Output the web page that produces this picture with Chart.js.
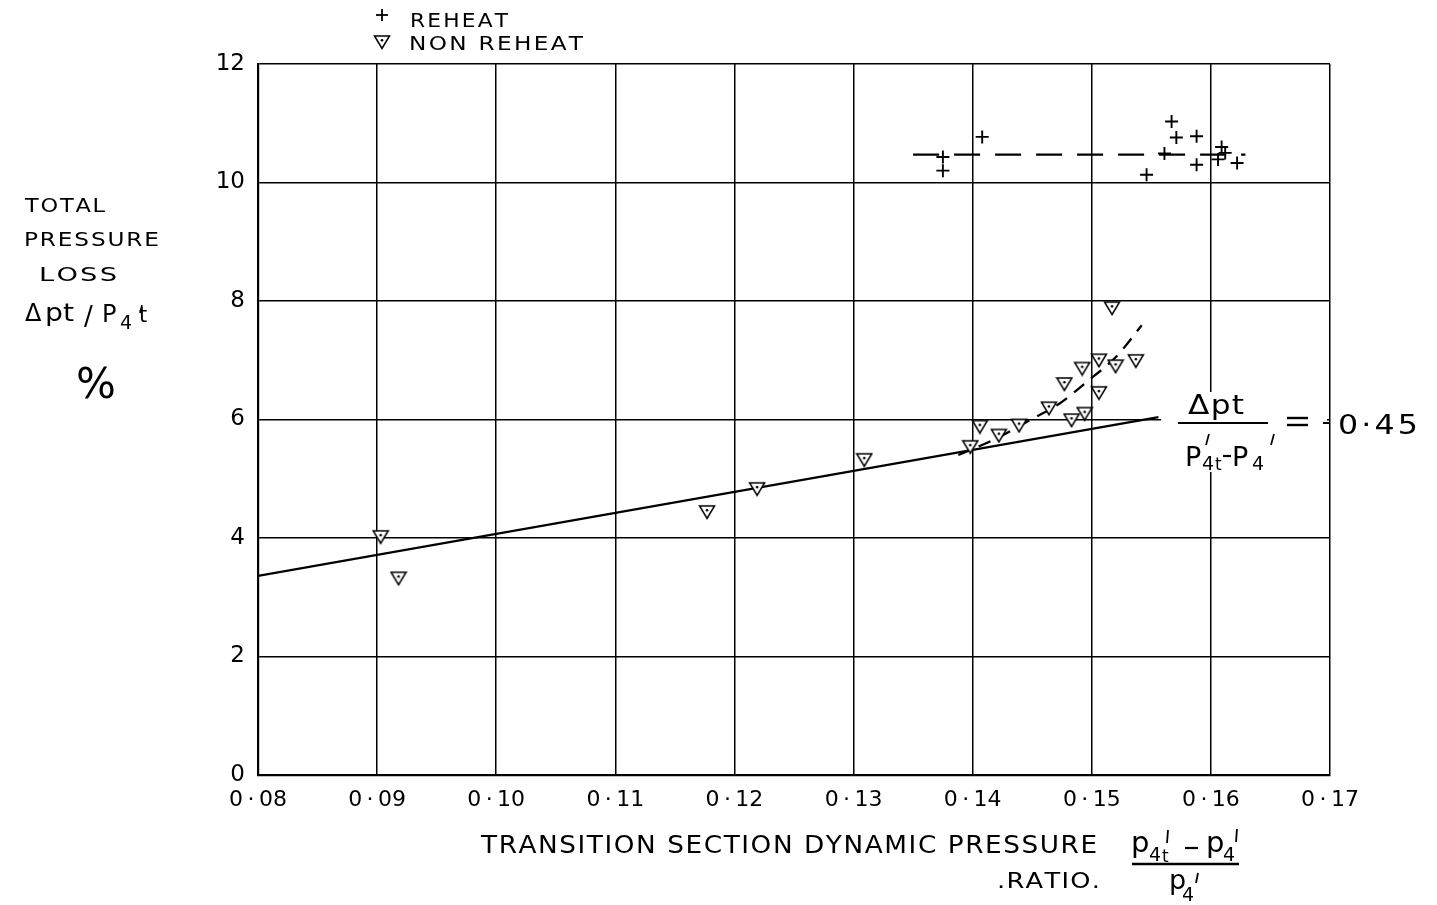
<!DOCTYPE html>
<html><head><meta charset="utf-8">
<script src="https://cdn.jsdelivr.net/npm/chart.js@4/dist/chart.umd.min.js"></script>
<style>html,body{margin:0;padding:0;background:#fff;overflow:hidden}#wrap{width:1437px;height:905px;position:relative}</style>
</head><body><div id="wrap"><canvas id="c" width="1437" height="905"></canvas></div>
<script>
// ---- data ----
const xTicks = [0.08,0.09,0.10,0.11,0.12,0.13,0.14,0.15,0.16,0.17];
const yTicks = [0,2,4,6,8,10,12];
const xLabels = ['0\u2009·\u200908','0\u2009·\u200909','0\u2009·\u200910','0\u2009·\u200911','0\u2009·\u200912','0\u2009·\u200913','0\u2009·\u200914','0\u2009·\u200915','0\u2009·\u200916','0\u2009·\u200917'];
const yLabels = ['0','2','4','6','8','10','12'];

const reheatX = [0.1375,0.1375,0.1408,0.1546,0.1561,0.1567,0.1571,0.1588,0.1588,0.1606,0.1609,0.1612,0.1622];
const reheatY = [10.43,10.20,10.77,10.13,10.49,11.03,10.76,10.78,10.30,10.39,10.60,10.50,10.33];

const nonReheatX = [0.0903,0.0918,0.1177,0.1219,0.1309,0.1398,0.1406,0.1422,0.1439,0.1464,0.1477,0.1483,0.1492,0.1494,0.1506,0.1506,0.1517,0.1520,0.1537];
const nonReheatY = [4.02,3.32,4.44,4.83,5.32,5.54,5.88,5.73,5.90,6.19,6.60,5.99,6.86,6.10,7.00,6.45,7.88,6.90,6.99];

const fitX = [0.08,0.1556];
const fitY = [3.36,6.04];

const reheatMeanX = [0.1350,0.1629];
const reheatMeanY = [10.47,10.47];

const curveX = [0.1388,0.1420,0.1448,0.1473,0.1496,0.1520,0.1542];
const curveY = [5.40,5.68,5.99,6.27,6.64,7.05,7.59];

// ---- helpers ----
const pts = (xs,ys)=>xs.map((x,i)=>({x:x,y:ys[i]}));
function triCanvas(){
  const c=document.createElement('canvas');c.width=18;c.height=16;
  const g=c.getContext('2d');
  g.lineWidth=1.5;g.strokeStyle='#000';g.fillStyle='#fff';
  g.beginPath();g.moveTo(1.5,2);g.lineTo(16.5,2);g.lineTo(9,14.5);g.closePath();g.fill();g.stroke();
  g.fillStyle='#000';g.beginPath();g.arc(9,6.2,1.3,0,Math.PI*2);g.fill();
  return c;
}
const TRI = triCanvas();
const FONT = '"DejaVu Sans", "Liberation Sans", sans-serif';

function fitText(ctx,text,x,y,w,gapEm){
  const size=parseFloat(ctx.font);
  const ch=[...text];const ws=ch.map(c=>ctx.measureText(c).width);
  const gap=(gapEm||0)*size;
  const tot=ws.reduce((a,b)=>a+b,0)+gap*(ch.length-1);
  const sx=w/tot;
  ctx.save();ctx.translate(x,y);ctx.scale(sx,1);
  let cx=0;ch.forEach((c,i)=>{ctx.fillText(c,cx,0);cx+=ws[i]+gap;});
  ctx.restore();
}
function seg(ctx,x1,y1,x2,y2,w){ctx.lineWidth=w||1.8;ctx.beginPath();ctx.moveTo(x1,y1);ctx.lineTo(x2,y2);ctx.stroke();}
function txt(ctx,s,size,x,y){ctx.font=size+'px '+FONT;ctx.fillText(s,x,y);}

const deco = {
  id:'deco',
  afterDraw(chart){
    const ctx=chart.ctx;ctx.save();
    ctx.fillStyle='#000';ctx.strokeStyle='#000';ctx.textBaseline='alphabetic';ctx.textAlign='left';
    // legend
    seg(ctx,376,15,388,15,1.8);seg(ctx,382,9,382,21,1.8);
    ctx.drawImage(TRI,382-9,42-8);
    ctx.font='20px '+FONT;
    fitText(ctx,'REHEAT',410,27,98,0.1);
    fitText(ctx,'NON REHEAT',409,50,174,0.1);
    // y title
    ctx.font='19px '+FONT;
    fitText(ctx,'TOTAL',25,212,80,0.08);
    fitText(ctx,'PRESSURE',24,246,135,0.08);
    fitText(ctx,'LOSS',39,281,78,0.08);
    txt(ctx,'Δ',24,25,321);
    ctx.font='24px '+FONT;fitText(ctx,'pt',45,321,29,0);
    txt(ctx,'/',26,84,325);
    txt(ctx,'P',24,102,322);
    txt(ctx,'4',19,120,329);
    txt(ctx,'t',21,139,322);
    seg(ctx,142,305,140,313,1.7);
    txt(ctx,'%',42,76,398);
    // x title
    ctx.font='24px '+FONT;
    fitText(ctx,'TRANSITION SECTION DYNAMIC PRESSURE',481,853,616,0.06);
    ctx.font='21px '+FONT;
    fitText(ctx,'.RATIO.',997,888,103,0.05);
    txt(ctx,'p',29,1131,852);
    txt(ctx,'4',19,1149,861);
    txt(ctx,'t',17,1162,862);
    seg(ctx,1168,830,1167,843,1.8);
    seg(ctx,1185,848,1198,848,2.2);
    txt(ctx,'p',29,1206,852);
    txt(ctx,'4',19,1223,861);
    seg(ctx,1237,829,1236,842,1.8);
    seg(ctx,1132,864,1239,864,2.4);
    txt(ctx,'p',27,1169,889);
    txt(ctx,'4',19,1182,901);
    seg(ctx,1198,873,1196,883,1.8);
    // right annotation
    ctx.fillStyle='#fff';ctx.fillRect(1161,392,166,80);
    ctx.fillStyle='#000';
    ctx.font='26px '+FONT;fitText(ctx,'Δpt',1188,414,56,0.04);
    seg(ctx,1178,423,1268,423,2.2);
    txt(ctx,'P',27,1185,466);
    txt(ctx,'4',19,1202,470);
    txt(ctx,'t',17,1215,470);
    seg(ctx,1223,456,1231,456,2.2);
    txt(ctx,'P',27,1232,466);
    txt(ctx,'4',19,1252,470);
    seg(ctx,1209,434,1206,445,1.7);
    seg(ctx,1274,434,1271,445,1.7);
    seg(ctx,1287,418,1308,418,2.4);seg(ctx,1287,425,1308,425,2.4);seg(ctx,1323,423,1330,423,2);
    ctx.font='27px '+FONT;fitText(ctx,'0·45',1338,434,80,0.1);
    ctx.restore();
  }
};

new Chart(document.getElementById('c'),{
  data:{datasets:[
    {type:'scatter',label:'REHEAT',data:pts(reheatX,reheatY),pointStyle:'cross',pointRadius:6.5,pointBorderWidth:1.9,borderColor:'#000',backgroundColor:'#000',order:0},
    {type:'scatter',label:'NON REHEAT',data:pts(nonReheatX,nonReheatY),pointStyle:TRI,pointRadius:8,order:0},
    {type:'line',label:'fit',data:pts(fitX,fitY),borderColor:'#000',borderWidth:2.3,pointRadius:0,fill:false,order:1},
    {type:'line',label:'reheat mean',data:pts(reheatMeanX,reheatMeanY),borderColor:'#000',borderWidth:2.3,borderDash:[26,15],pointRadius:0,fill:false,order:1},
    {type:'line',label:'non reheat trend',data:pts(curveX,curveY),borderColor:'#000',borderWidth:2.3,borderDash:[13,9],pointRadius:0,fill:false,cubicInterpolationMode:'monotone',order:1}
  ]},
  options:{
    responsive:false,animation:false,devicePixelRatio:1,
    layout:{padding:{left:0,top:64,right:107,bottom:0}},
    plugins:{legend:{display:false},tooltip:{enabled:false}},
    scales:{
      x:{type:'linear',min:0.08,max:0.17,
        afterBuildTicks:s=>{s.ticks=xTicks.map(v=>({value:v}));},
        afterFit:s=>{s.height=130;},
        ticks:{callback:(v,i)=>xLabels[i],color:'#000',font:{family:'"DejaVu Sans"',size:22},padding:12,maxRotation:0,autoSkip:false},
        grid:{color:'#000',lineWidth:1.5,drawTicks:false},
        border:{color:'#000',width:2.2}},
      y:{type:'linear',min:0,max:12,
        afterBuildTicks:s=>{s.ticks=yTicks.map(v=>({value:v}));},
        afterFit:s=>{s.width=258;},
        ticks:{callback:(v,i)=>yLabels[i],color:'#000',font:{family:'"DejaVu Sans"',size:23},padding:13,autoSkip:false},
        grid:{color:'#000',lineWidth:1.5,drawTicks:false},
        border:{color:'#000',width:2.2}}
    }
  },
  plugins:[deco]
});
</script></body></html>
